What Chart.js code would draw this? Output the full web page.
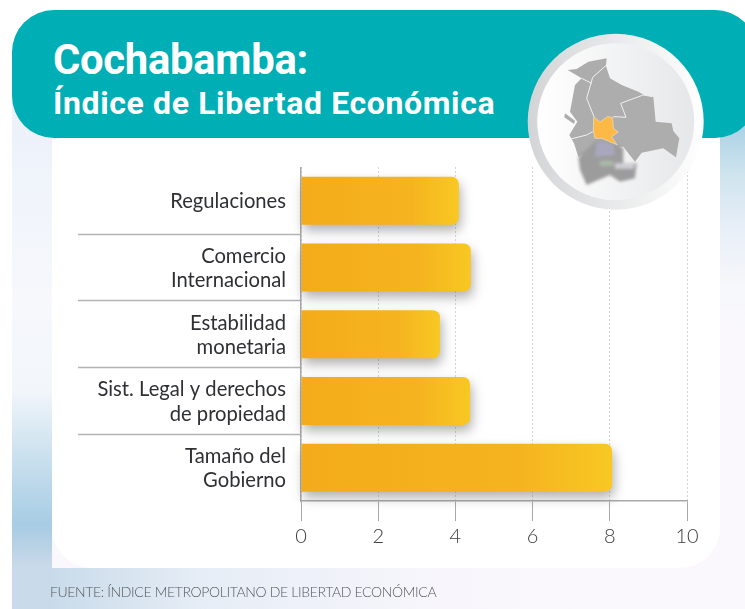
<!DOCTYPE html>
<html lang="es">
<head>
<meta charset="utf-8">
<title>Cochabamba: Índice de Libertad Económica</title>
<script src="https://cdn.jsdelivr.net/npm/chart.js@4/dist/chart.umd.min.js"></script>
<style>
  html,body{margin:0;padding:0;background:#fff;}
  #stage{position:relative;width:745px;height:609px;overflow:hidden;background:#fff;}
  #bg{position:absolute;left:12px;top:60px;width:733px;height:549px;background-color:#fbf8fd;background-repeat:no-repeat;
    background-image:
      linear-gradient(90deg,#c9dbea 40px,#e6edf6 190px,#f8f6fc 430px,#fbf8fd 600px),
      linear-gradient(180deg,#edf2fa 70px,#f6f8fc 240px,#f2f6fb 330px,#cbe1ee 395px,#a7cce4 465px,#bcd3e6 490px,#c9dbea 508px),
      linear-gradient(180deg,#aed3e6 70px,#cfe4ee 115px,#e9eff8 170px,#f7f8fb 230px,#fbf8fd 285px);
    background-size:100% 41px,40px 508px,25px 100%;
    background-position:left bottom,left top,right top;}
  #panel{position:absolute;left:52px;top:120px;width:668px;height:448px;background:#fff;border-radius:0 0 40px 40px;}
  #header{position:absolute;left:12px;top:10px;width:745px;height:128px;background:#00aeb5;border-radius:42px;}
  #title{position:absolute;left:53px;top:35px;color:#fff;font:700 41.8px/50px Roboto,sans-serif;white-space:nowrap;letter-spacing:-.3px;}
  #subtitle{position:absolute;left:53px;top:81px;color:#fff;font:700 32px/44px Roboto,sans-serif;white-space:nowrap;letter-spacing:.62px;}
  #source{position:absolute;left:50px;top:583px;color:#55585c;font:300 14px/18px Lato,sans-serif;white-space:nowrap;letter-spacing:-.36px;}
  #wrap{position:absolute;left:0;top:0;width:745px;height:609px;}
  #map{position:absolute;left:0;top:0;}
</style>
</head>
<body>
<div id="stage">
  <div id="bg"></div>
  <div id="panel"></div>
  <div id="header"></div>
  <div id="title">Cochabamba:</div>
  <div id="subtitle">Índice de Libertad Económica</div>
  <div id="wrap"><canvas id="chart" width="745" height="609"></canvas></div>
  <svg id="map" width="745" height="609" viewBox="0 0 745 609">
    <defs>
      <linearGradient id="ring" x1="0" x2="1"><stop offset="0" stop-color="#d3d4d6"/><stop offset="1" stop-color="#ffffff"/></linearGradient>
      <linearGradient id="disc" x1="0" x2="1"><stop offset="0" stop-color="#ffffff"/><stop offset="1" stop-color="#e6e7e9"/></linearGradient>
      <filter id="blur" x="-20%" y="-20%" width="140%" height="140%"><feGaussianBlur stdDeviation="5"/></filter>
    </defs>
    <circle cx="615.7" cy="121.7" r="88" fill="url(#ring)"/>
    <circle cx="615.7" cy="121.7" r="78.5" fill="url(#disc)"/>
    <g transform="translate(500 0) scale(.3333)">
      <path fill="#adadad" d="M320 175L318 198 330 235 365 255 415 275 432 285 460 290 467 365 515 370 520 393 538 415 528 472 490 445 425 458 405 485 370 440 300 440 235 470 222 430 208 405 232 365 210 335 225 255 245 235 203 210 230 207 265 185Z"/>
      <path fill="#adadad" d="M195 340L225 362 222 372 193 352Z"/>
      <g fill="none" stroke="#f1f1f1" stroke-width="3">
        <path d="M320 195L278 232 260 295 282 350"/>
        <path d="M245 235L275 250"/>
        <path d="M340 350L378 352 362 310 430 285 458 290"/>
        <path d="M208 418L260 405 278 395"/>
      </g>
      <g filter="url(#blur)">
        <path fill="#9c9c9c" d="M235 470L290 420 340 425 370 445 370 490 410 490 405 535 360 545 330 525 260 555 240 510Z"/>
        <path fill="#a9a7bd" d="M290 425L340 430 345 465 285 470Z"/>
        <path fill="#aab8a8" d="M300 482L340 482 340 498 300 498Z"/>
        <path fill="#cfcfd6" d="M345 490L405 490 400 506 345 506Z"/>
      </g>
      <path fill="#fdb945" stroke="#f1f1f1" stroke-width="1.5" d="M281 350L300 366 322 350 338 352 340 385 355 396 335 410 352 435 305 415 285 415 280 395Z"/>
    </g>
  </svg>
  <div id="source">FUENTE: ÍNDICE METROPOLITANO DE LIBERTAD ECONÓMICA</div>
</div>
<script>
const categories = [
  "Regulaciones",
  ["Comercio", "Internacional"],
  ["Estabilidad", "monetaria"],
  ["Sist. Legal y derechos", "de propiedad"],
  ["Tamaño del", "Gobierno"]
];
const values = [4.09, 4.4, 3.6, 4.38, 8.06];
const tickValues = [0, 2, 4, 6, 8, 10];

const barShadow = {
  id: "barShadow",
  beforeDatasetDraw(chart) {
    const c = chart.ctx;
    c.save();
    c.shadowColor = "rgba(60,60,60,.4)";
    c.shadowBlur = 12;
    c.shadowOffsetX = 2;
    c.shadowOffsetY = 6;
  },
  afterDatasetDraw(chart) { chart.ctx.restore(); }
};

new Chart(document.getElementById("chart"), {
  type: "bar",
  plugins: [barShadow],
  data: {
    labels: categories,
    datasets: [{
      data: values,
      clip: false,
      categoryPercentage: 0.72,
      barPercentage: 1,
      borderRadius: { topRight: 7, bottomRight: 7 },
      backgroundColor(ctx) {
        const { chart, dataIndex } = ctx;
        if (!chart.chartArea || dataIndex === undefined) return "#f5b01d";
        const x = chart.scales.x;
        const g = chart.ctx.createLinearGradient(x.getPixelForValue(0), 0, x.getPixelForValue(values[dataIndex]), 0);
        g.addColorStop(0, "#f4ab1b");
        g.addColorStop(0.7, "#f5b41f");
        g.addColorStop(1, "#f8c823");
        return g;
      }
    }]
  },
  options: {
    indexAxis: "y",
    responsive: false,
    animation: false,
    layout: { padding: { top: 167.5, right: 58, left: 0, bottom: 0 } },
    plugins: { legend: { display: false }, tooltip: { enabled: false } },
    scales: {
      x: {
        min: 0, max: 10,
        afterBuildTicks(s) { s.ticks = tickValues.map(v => ({ value: v })); },
        afterFit(s) { s.height = 108; },
        border: { display: true, color: "#a9a9a9", width: 1.5, dash: [1, 3] },
        grid: { color: "#a9a9a9", lineWidth: 1, tickLength: 20, tickColor: "#a9a9a9", tickBorderDash: [], tickWidth: 1 },
        ticks: { color: "#3c3e41", padding: 4, font: { family: "Lato", size: 20, weight: "300" }, maxRotation: 0 }
      },
      y: {
        afterFit(s) { s.width = 301; },
        border: { display: true, color: "#a9a9a9", width: 1.5 },
        grid: {
          drawOnChartArea: false,
          tickLength: 223,
          tickWidth: 1.5,
          tickColor(ctx) { return (ctx.index === undefined || ctx.index === 0) ? "rgba(0,0,0,0)" : "#b4b4b4"; }
        },
        ticks: { color: "#2f3033", padding: -208, labelOffset: 1, autoSkip: false, font: { family: "Lato", size: 20.2, weight: "400", lineHeight: 1.21 } }
      }
    }
  }
});
</script>
</body>
</html>
